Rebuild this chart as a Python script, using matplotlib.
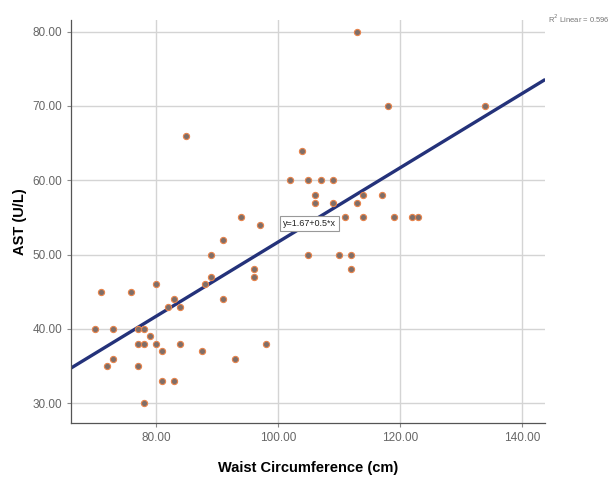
import matplotlib
matplotlib.use("Agg")
import matplotlib.pyplot as plt
import numpy as np

waist = [70, 71, 72, 73, 73, 76, 77, 77, 77, 78, 78, 78, 79, 80, 80, 81, 81, 82, 83, 83,
         84, 84, 85, 87.5, 88, 89, 89, 91, 91, 93, 94, 96, 96, 97, 98, 102, 104, 105, 105,
         106, 106, 107, 109, 109, 110, 111, 112, 112, 113, 113, 114, 114, 117, 118, 119,
         122, 123, 134]
ast = [40, 45, 35, 40, 36, 45, 40, 38, 35, 40, 38, 30, 39, 46, 38, 37, 33, 43, 44, 33,
       43, 38, 66, 37, 46, 47, 50, 52, 44, 36, 55, 48, 47, 54, 38, 60, 64, 60, 50,
       58, 57, 60, 60, 57, 50, 55, 50, 48, 57, 80, 58, 55, 58, 70, 55,
       55, 55, 70]
intercept = 1.67
slope = 0.5
xticks = [80, 100, 120, 140]
yticks = [30, 40, 50, 60, 70, 80]

plt.rcParams['font.family'] = ['Liberation Sans', 'DejaVu Sans']
fig = plt.figure(figsize=(6.12, 4.82), dpi=100)
ax = fig.add_axes([0.116, 0.122, 0.775, 0.837])

xlim = (66.1, 143.8)
ylim = (27.3, 81.6)
ax.set_xlim(*xlim)
ax.set_ylim(*ylim)

ax.grid(True, color='#d4d4d4', linewidth=1.0)
ax.set_axisbelow(True)

xs = np.array(xlim)
ax.plot(xs, intercept + slope * xs, color='#24327a', linewidth=2.4, zorder=2, solid_capstyle='butt')
ax.scatter(waist, ast, s=20, facecolor='#7f6e68', edgecolor='#e8844c', linewidth=0.8, zorder=3)

ax.set_xticks(xticks)
ax.set_yticks(yticks)
ax.set_xticklabels([f"{v:.2f}" for v in xticks])
ax.set_yticklabels([f"{v:.2f}" for v in yticks])
ax.tick_params(axis='both', colors='#8a8a8a', labelcolor='#666666', labelsize=8.5, length=3, width=0.8)

for s in ['top', 'right']:
    ax.spines[s].set_visible(False)
for s in ['left', 'bottom']:
    ax.spines[s].set_color('#555555')
    ax.spines[s].set_linewidth(0.9)

ax.set_xlabel('Waist Circumference (cm)', fontsize=10.5, fontweight='bold', labelpad=12)
ax.set_ylabel('AST (U/L)', fontsize=10.5, fontweight='bold', labelpad=4)

ax.text(100.8, 54.2, 'y=1.67+0.5*x', fontsize=6.5, va='center', ha='left', color='#222222',
        bbox=dict(boxstyle='square,pad=0.3', facecolor='white', edgecolor='#999999', linewidth=0.8), zorder=4)

fig.text(0.895, 0.962, 'R$^2$ Linear = 0.596', fontsize=5.5, color='#777777', ha='left', va='center')

fig.savefig('out.png', dpi=100)
